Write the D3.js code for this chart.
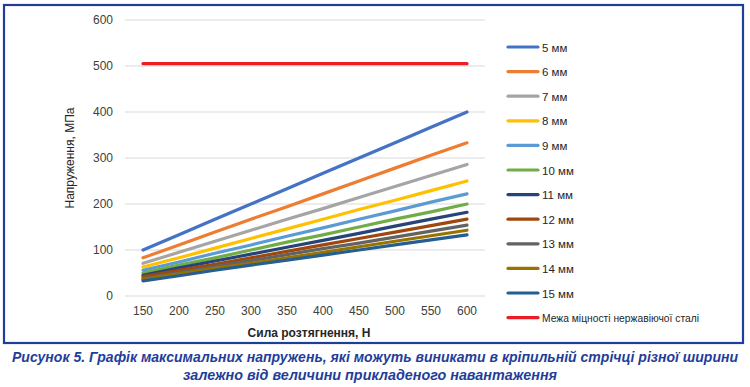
<!DOCTYPE html>
<html><head><meta charset="utf-8">
<script src="https://cdn.jsdelivr.net/npm/d3@7"></script>
<style>body{margin:0;background:#fff}svg{display:block}</style>
</head><body>
<svg id="c" width="750" height="387"></svg>
<script>
const categories = ["150","200","250","300","350","400","450","500","550","600"];
const yTicks = [0,100,200,300,400,500,600];
const seriesNames = ["5 мм","6 мм","7 мм","8 мм","9 мм","10 мм","11 мм","12 мм","13 мм","14 мм","15 мм","Межа міцності нержавіючої сталі"];
const seriesColors = ["#4472C4","#ED7D31","#A5A5A5","#FFC000","#5B9BD5","#70AD47","#264478","#9E480E","#636363","#997300","#255E91","#EE1C25"];
const s5  = [100,133,167,200,233,267,300,333,367,400];
const s6  = [83,111,139,167,194,222,250,278,306,333];
const s7  = [71,95,119,143,167,190,214,238,262,286];
const s8  = [63,83,104,125,146,167,188,208,229,250];
const s9  = [56,74,93,111,130,148,167,185,204,222];
const s10 = [50,67,83,100,117,133,150,167,183,200];
const s11 = [45,61,76,91,106,121,136,152,167,182];
const s12 = [42,56,69,83,97,111,125,139,153,167];
const s13 = [38,51,64,77,90,103,115,128,141,154];
const s14 = [36,48,60,71,83,95,107,119,131,143];
const s15 = [33,44,56,67,78,89,100,111,122,133];
const sLimit = [505,505,505,505,505,505,505,505,505,505];
const seriesValues = [s5,s6,s7,s8,s9,s10,s11,s12,s13,s14,s15,sLimit];
const xTitle = "Сила розтягнення, Н";
const yTitle = "Напруження, МПа";
const caption1 = "Рисунок 5. Графік максимальних напружень, які можуть виникати в кріпильній стрічці різної ширини";
const caption2 = "залежно від величини прикладеного навантаження";

const svg = d3.select("#c");
const font = "'Liberation Sans', Arial, sans-serif";
const x = d3.scaleBand().domain(categories).range([125,485]);
const y = d3.scaleLinear().domain([0,600]).range([296,20]);

// border
svg.append("rect").attr("x",4).attr("y",5).attr("width",739).attr("height",338)
  .attr("fill","none").attr("stroke","#1F3E9A").attr("stroke-width",2.2);

// grid
svg.append("g").selectAll("line").data(yTicks).join("line")
  .attr("x1",125).attr("x2",485).attr("y1",d=>y(d)).attr("y2",d=>y(d))
  .attr("stroke","#D9D9D9").attr("stroke-width",1);

// y axis labels
const yAxis = svg.append("g").attr("transform","translate(113,0)")
  .call(d3.axisLeft(y).tickValues(yTicks).tickSize(0).tickPadding(0));
yAxis.select(".domain").remove();
yAxis.selectAll("text").attr("font-family",font).attr("font-size",12).attr("fill","#404040");

// x axis labels
const xAxis = svg.append("g").attr("transform","translate(0,306)")
  .call(d3.axisBottom(x).tickSize(0).tickPadding(0));
xAxis.select(".domain").remove();
xAxis.selectAll("text").attr("font-family",font).attr("font-size",12).attr("fill","#404040");

// lines
const line = d3.line().x((d,i)=>x(categories[i])+x.bandwidth()/2).y(d=>y(d));
svg.append("g").selectAll("path").data(seriesValues).join("path")
  .attr("d",d=>line(d)).attr("fill","none")
  .attr("stroke",(d,i)=>seriesColors[i]).attr("stroke-width",3.2)
  .attr("stroke-linecap","round");

// titles
svg.append("text").attr("x",309).attr("y",337).attr("text-anchor","middle")
  .attr("font-family",font).attr("font-size",12).attr("font-weight","bold").attr("fill","#262626").text(xTitle);
svg.append("text").attr("transform","translate(74,158) rotate(-90)").attr("text-anchor","middle")
  .attr("font-family",font).attr("font-size",12).attr("fill","#262626").text(yTitle);

// legend
const lg = svg.append("g").selectAll("g").data(seriesNames).join("g")
  .attr("transform",(d,i)=>`translate(508,${47+i*24.6})`);
lg.append("line").attr("x1",0).attr("x2",30).attr("y1",0).attr("y2",0)
  .attr("stroke",(d,i)=>seriesColors[i]).attr("stroke-width",3.2).attr("stroke-linecap","round");
lg.append("text").attr("x",34).attr("y",4.5).attr("font-family",font).attr("font-size",11.5)
  .attr("fill","#262626").text(d=>d)
  .each(function(d,i){ if(i===seriesNames.length-1) d3.select(this).attr("textLength",157).attr("lengthAdjust","spacingAndGlyphs"); });

// caption
svg.append("text").attr("x",375).attr("y",362).attr("text-anchor","middle")
  .attr("font-family",font).attr("font-size",14).attr("font-weight","bold").attr("font-style","italic")
  .attr("fill","#1F3E9A").attr("textLength",726).attr("lengthAdjust","spacingAndGlyphs").text(caption1);
svg.append("text").attr("x",370).attr("y",380).attr("text-anchor","middle")
  .attr("font-family",font).attr("font-size",14).attr("font-weight","bold").attr("font-style","italic")
  .attr("fill","#1F3E9A").attr("textLength",374).attr("lengthAdjust","spacingAndGlyphs").text(caption2);
</script>
</body></html>
